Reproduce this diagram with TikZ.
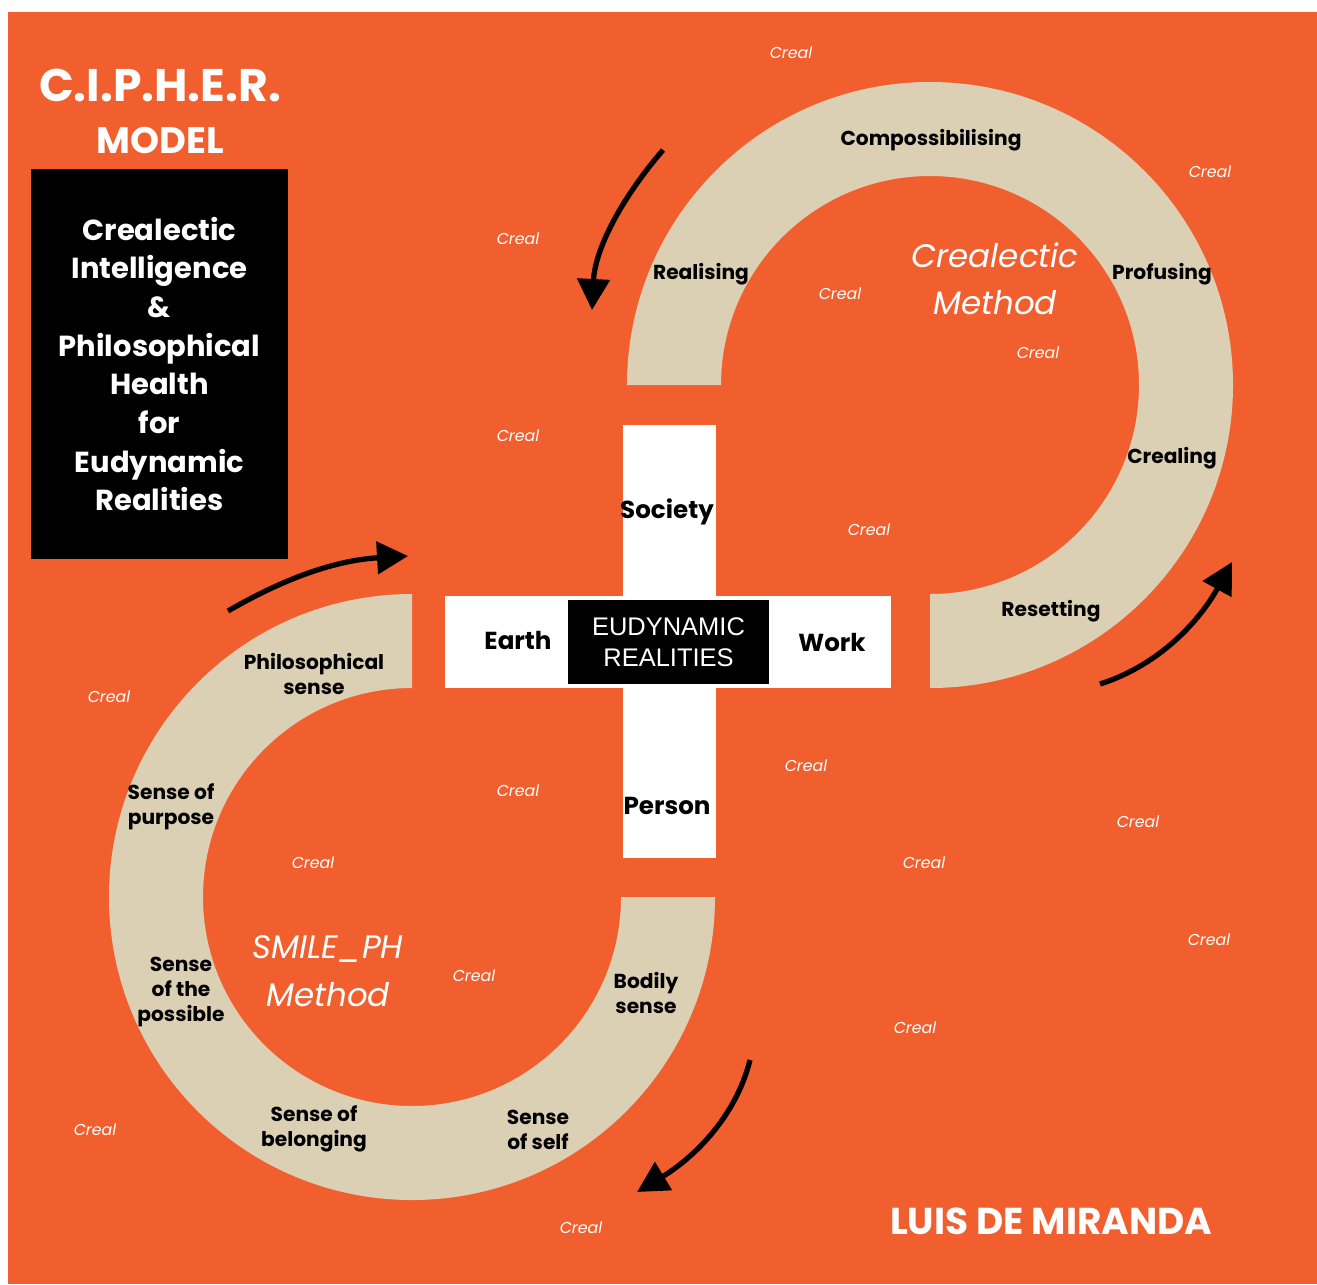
\documentclass[tikz,border=0pt]{standalone}
\usepackage{fontspec}
\setmainfont{Poppins}
\newfontfamily\crealfont{Poppins Italic}
\newfontfamily\arialfont{Liberation Sans}
\usetikzlibrary{arrows.meta}
\definecolor{bgorange}{HTML}{F15F2F}
\definecolor{ringbeige}{HTML}{DBD0B4}

\begin{document}
\begin{tikzpicture}[x=0.02cm,y=-0.02cm,>={Triangle[length=0.62cm,width=0.64cm]}]
\tikzstyle{lbl}=[align=center,font=\fontsize{11.5}{14.5}\selectfont\bfseries]
\tikzstyle{crosslbl}=[font=\fontsize{14}{16}\selectfont\bfseries]
\tikzstyle{creal}=[text=white,font=\fontsize{9}{11}\selectfont\crealfont]
\tikzstyle{method}=[text=white,align=center,font=\fontsize{18.5}{27}\selectfont\crealfont]
\tikzstyle{title}=[text=white,font=\bfseries]
\tikzstyle{flow}=[->,line width=3pt]
\useasboundingbox (0,0) rectangle (1317,1284);
\fill[bgorange] (8,12) rectangle (1317,1284);

% the two rings
\fill[ringbeige] (627,385) arc[start angle=180,end angle=450,radius=303]
  -- (930,594) arc[start angle=450,end angle=180,radius=209] -- cycle;
\fill[ringbeige] (412,594) arc[start angle=270,end angle=0,radius=303]
  -- (621,897) arc[start angle=0,end angle=270,radius=209] -- cycle;

% cross in the middle
\fill[white] (623,425) rectangle (716,858);
\fill[white] (445,596) rectangle (891,688);
\node[fill=black,text=white,minimum width=4.02cm,minimum height=1.68cm,align=center,
  font=\fontsize{14.5}{17.6}\selectfont\arialfont] (eudyn) at (668.5,642) {EUDYNAMIC\\REALITIES};
\node[crosslbl] (society) at (667,512) {Society};
\node[crosslbl] (earth) at (518,640) {Earth};
\node[crosslbl] (work) at (832,642) {Work};
\node[crosslbl] (person) at (667,806) {Person};

% title block
\node[title,font=\fontsize{26}{30}\selectfont\bfseries] (cipher) at (160,85) {C.I.P.H.E.R.};
\node[title,font=\fontsize{21}{24}\selectfont\bfseries] (model) at (160,140) {MODEL};
\node[fill=black,text=white,minimum width=5.14cm,minimum height=7.8cm,align=center,
  font=\fontsize{16.5}{22}\selectfont\bfseries] (ciphbox) at (159.5,364)
  {Crealectic\\Intelligence\\\&\\Philosophical\\Health\\for\\Eudynamic\\Realities};

% upper ring
\node[method] (crealm) at (995,279) {Crealectic\\Method};
\node[lbl] (compos) at (931,140) {Compossibilising};
\node[lbl] (realis) at (701,274) {Realising};
\node[lbl] (profus) at (1162,274) {Profusing};
\node[lbl] (crealg) at (1172,458) {Crealing};
\node[lbl] (reset) at (1051,611) {Resetting};

% lower ring
\node[method] (smile) at (328,971) {SMILE\_PH\\Method};
\node[lbl] (philo) at (314,674) {Philosophical\\sense};
\node[lbl] (purp) at (171,807) {Sense of\\purpose};
\node[lbl] (poss) at (181,992) {Sense\\of the\\possible};
\node[lbl] (belong) at (314,1129) {Sense of\\belonging};
\node[lbl] (self) at (538,1130) {Sense\\of self};
\node[lbl] (bodily) at (646,993) {Bodily\\sense};

\node[title,font=\fontsize{21.3}{24}\selectfont\bfseries] (author) at (1051,1221) {LUIS DE MIRANDA};

% scattered creals
\foreach \x/\y [count=\i] in {791/53,1210/172,518/239,840/294,1038/353,518/436,869/530,
  109/697,806/766,518/791,1138/822,313/863,924/863,1209/940,474/976,915/1028,95/1130,581/1228}
  \node[creal] (creal\i) at (\x,\y) {Creal};

% flow arrows
\coordinate (a1s) at (663,150); \coordinate (a1e) at (592,310);
\coordinate (a2s) at (228,611); \coordinate (a2e) at (408,556);
\coordinate (a3s) at (1100,684); \coordinate (a3e) at (1232,562);
\coordinate (a4s) at (750,1060); \coordinate (a4e) at (637,1192);
\draw[flow] (a1s) .. controls (620,200) and (595,250) .. (a1e);
\draw[flow] (a2s) .. controls (290,575) and (340,560) .. (a2e);
\draw[flow] (a3s) .. controls (1160,665) and (1200,620) .. (a3e);
\draw[flow] (a4s) .. controls (735,1120) and (690,1160) .. (a4e);
\end{tikzpicture}
\end{document}
